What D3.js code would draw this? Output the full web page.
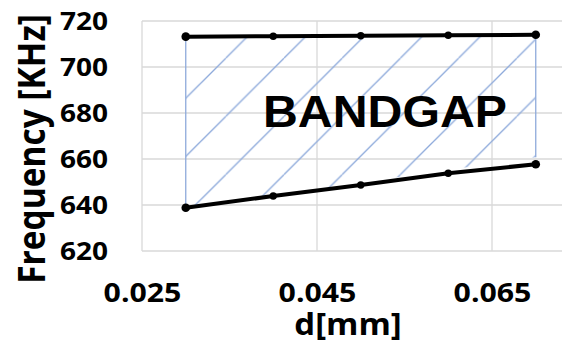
<!DOCTYPE html>
<html>
<head>
<meta charset="utf-8">
<script src="https://cdn.jsdelivr.net/npm/d3@7"></script>
<style>
  html, body { margin: 0; padding: 0; background: #fff; }
  svg { display: block; }
</style>
</head>
<body>
<svg id="chart" width="567" height="343"></svg>
<script>
// Plate thickness d [mm] and the band edges [KHz]
const thickness = [0.03, 0.04, 0.05, 0.06, 0.07];
const upperEdge = [713.2, 713.4, 713.6, 713.8, 714.0];
const lowerEdge = [638.8, 643.9, 648.7, 653.8, 657.7];

// Hatched band-gap region (corners)
const bandD = [0.03, 0.07];
const bandTop = [713.2, 714.0];
const bandBottom = [638.8, 660.8];

const xTicks = [0.025, 0.045, 0.065];
const yTicks = [620, 640, 660, 680, 700, 720];

const svg = d3.select("#chart");
const FONT = "'Open Sans', 'Noto Sans', sans-serif";
const WIDEN = "scale(1.1,1)";

const x = d3.scaleLinear().domain([0.025, 0.073]).range([142, 562]);
const y = d3.scaleLinear().domain([620, 720]).range([251, 21]);

// Gridlines
const grid = svg.append("g").attr("stroke", "#d9d9d9").attr("stroke-width", 1.3);
grid.selectAll("line.h").data(yTicks).join("line")
  .attr("x1", x(0.025)).attr("x2", x(0.073))
  .attr("y1", d => y(d)).attr("y2", d => y(d));
grid.selectAll("line.v").data(xTicks).join("line")
  .attr("x1", d => x(d)).attr("x2", d => x(d))
  .attr("y1", y(620)).attr("y2", y(720));

// Axes (tick labels only)
const xAxis = d3.axisBottom(x).tickValues(xTicks).tickSize(0).tickPadding(0)
  .tickFormat(d3.format(".3f"));
const gx = svg.append("g").attr("transform", `translate(0,${y(620)})`).call(xAxis);
gx.select(".domain").remove();
gx.selectAll("text")
  .attr("dy", null).attr("y", 51)
  .attr("transform", WIDEN)
  .attr("font-family", FONT)
  .attr("font-weight", "bold").attr("font-size", 27.5).attr("fill", "#000");

const yAxis = d3.axisLeft(y).tickValues(yTicks).tickSize(0).tickPadding(0);
const gy = svg.append("g").attr("transform", `translate(108,0)`).call(yAxis);
gy.select(".domain").remove();
gy.selectAll("text")
  .attr("x", 0).attr("dy", "0.34em")
  .attr("transform", WIDEN)
  .attr("font-family", FONT)
  .attr("font-weight", "bold").attr("font-size", 25.5).attr("fill", "#000");

// Axis titles
svg.append("text")
  .attr("transform", `translate(45,149) ${WIDEN} rotate(-90)`)
  .attr("text-anchor", "middle")
  .attr("font-family", FONT)
  .attr("font-weight", "bold").attr("font-size", 33.5).attr("fill", "#000")
  .text("Frequency [KHz]");

svg.append("text")
  .attr("transform", `translate(348,335) ${WIDEN}`)
  .attr("text-anchor", "middle")
  .attr("font-family", FONT)
  .attr("font-weight", "bold").attr("font-size", 30).attr("fill", "#000")
  .text("d[mm]");

// Diagonal hatch pattern
const step = 58.2;
const defs = svg.append("defs");
const pat = defs.append("pattern")
  .attr("id", "hatch")
  .attr("patternUnits", "userSpaceOnUse")
  .attr("x", 51.2).attr("y", 0)
  .attr("width", step).attr("height", step);
pat.selectAll("line").data([0, 1, 2]).join("line")
  .attr("x1", d => -step + d * step).attr("y1", step)
  .attr("x2", d => d * step).attr("y2", 0)
  .attr("stroke", "#8eaadb").attr("stroke-width", 1.3);

const bandPoly = [
  [x(bandD[0]), y(bandTop[0])],
  [x(bandD[1]), y(bandTop[1])],
  [x(bandD[1]), y(bandBottom[1])],
  [x(bandD[0]), y(bandBottom[0])]
];
svg.append("path")
  .attr("d", d3.line()(bandPoly) + "Z")
  .attr("fill", "url(#hatch)").attr("stroke", "none");

// Vertical edges of the region
svg.append("g").attr("stroke", "#8eaadb").attr("stroke-width", 1.3)
  .selectAll("line").data([0, 1]).join("line")
  .attr("x1", i => x(bandD[i])).attr("x2", i => x(bandD[i]))
  .attr("y1", i => y(bandTop[i])).attr("y2", i => y(bandBottom[i]));

// Band edge lines with markers
const line = d3.line().x((d, i) => x(thickness[i])).y(d => y(d));
[upperEdge, lowerEdge].forEach(series => {
  svg.append("path")
    .attr("d", line(series))
    .attr("fill", "none").attr("stroke", "#000").attr("stroke-width", 4)
    .attr("stroke-linejoin", "round");
  svg.append("g").selectAll("circle").data(series).join("circle")
    .attr("cx", (d, i) => x(thickness[i])).attr("cy", d => y(d))
    .attr("r", (d, i) => (i === 0 || i === series.length - 1) ? 4.3 : 3.7)
    .attr("fill", "#000");
});

// Region label
svg.append("text")
  .attr("x", 263).attr("y", 127)
  .attr("font-family", "'Liberation Sans', Arial, sans-serif")
  .attr("font-weight", "bold").attr("font-size", 44).attr("fill", "#000")
  .attr("textLength", 244).attr("lengthAdjust", "spacingAndGlyphs")
  .text("BANDGAP");
</script>
</body>
</html>
